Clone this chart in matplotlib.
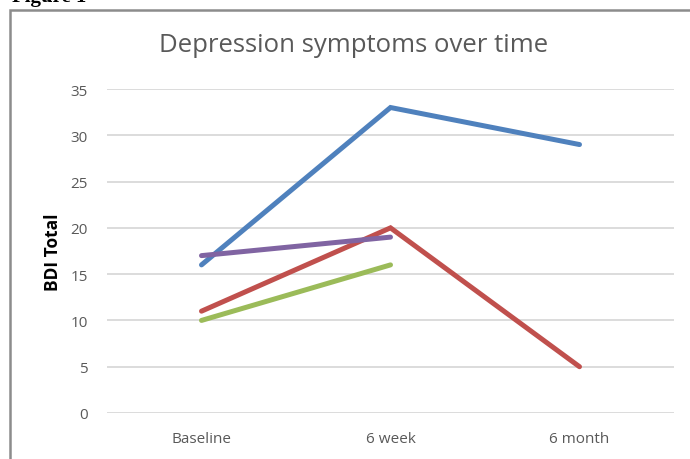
import matplotlib
matplotlib.use("Agg")
import matplotlib.pyplot as plt
from matplotlib.patches import Rectangle

timepoints = ["Baseline", "6 week", "6 month"]
series_blue = [16, 33, 29]
series_red = [11, 20, 5]
series_purple = [17, 19]
series_green = [10, 16]
yticks = [0, 5, 10, 15, 20, 25, 30, 35]

plt.rcParams['font.family'] = ['Open Sans', 'DejaVu Sans']

fig = plt.figure(figsize=(6.9, 4.6), dpi=100)
ax = fig.add_axes([107 / 690, 1 - 414 / 460, (674 - 107) / 690, (414 - 90) / 460])

x = list(range(len(timepoints)))
lw = 3.6
ax.plot(x, series_blue, color="#4F81BD", lw=lw, solid_capstyle="round", solid_joinstyle="miter")
ax.plot(x, series_red, color="#C0504D", lw=lw, solid_capstyle="round", solid_joinstyle="miter")
ax.plot(x[:2], series_purple, color="#8064A2", lw=lw, solid_capstyle="round")
ax.plot(x[:2], series_green, color="#9BBB59", lw=lw, solid_capstyle="round")

ax.set_xlim(-0.5, 2.5)
ax.set_ylim(0, 35)
ax.set_yticks(yticks)
ax.set_xticks(x)
ax.set_xticklabels(timepoints)
ax.yaxis.grid(True, color="#D9D9D9", lw=1.3)
ax.set_axisbelow(True)
for s in ax.spines.values():
    s.set_visible(False)
ax.tick_params(axis="both", length=0, colors="#595959", labelsize=11)
ax.tick_params(axis="y", pad=14)
ax.tick_params(axis="x", pad=13)
ax.set_ylabel("BDI Total", fontsize=12.5, fontweight="bold", color="black", labelpad=6)

fig.text(354 / 690, 1 - 45 / 460, "Depression symptoms over time", ha="center", va="center",
         fontsize=18.5, color="#595959")

# outer frame around the chart
fig.patches.append(Rectangle((10 / 690, -0.1), 1.2, 1 - 11 / 460 + 0.1, transform=fig.transFigure,
                             fill=False, edgecolor="#8C8C8C", lw=1.8))
# caption cut off at the top of the image
fig.text(12 / 690, 1 - 2 / 460, "Figure 1", ha="left", va="baseline", fontsize=15,
         fontweight="bold", family="Liberation Serif", color="black")

fig.savefig("out.png", dpi=100)
